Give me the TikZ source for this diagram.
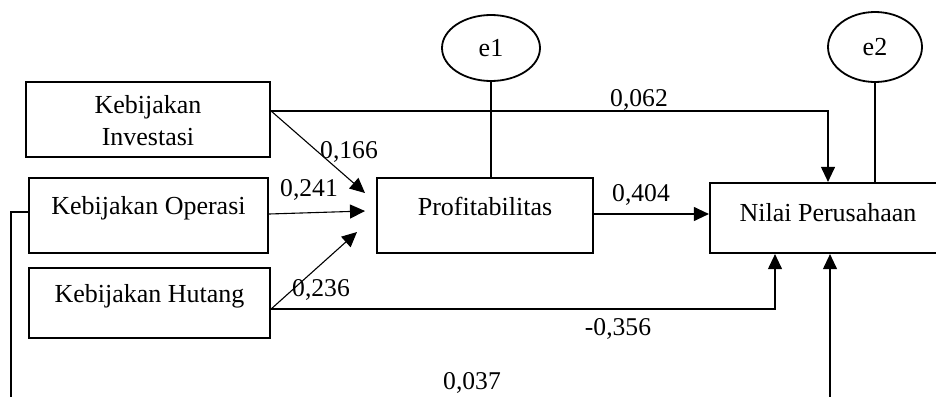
\documentclass[tikz,border=0pt]{standalone}
\usepackage{fontspec}
\setmainfont{Liberation Serif}
\usetikzlibrary{arrows.meta,shapes.geometric,calc}
\begin{document}
\begin{tikzpicture}[x=0.5pt,y=-0.5pt,
  box/.style={draw,line width=1.1pt,inner sep=0pt,rectangle},
  err/.style={draw,line width=0.9pt,ellipse,inner sep=0pt},
  txt/.style={inner sep=0pt,font=\fontsize{13}{16}\selectfont,align=center},
  lab/.style={inner sep=0pt,font=\fontsize{12.8}{15}\selectfont},
  con/.style={line width=0.55pt},
  arr/.style={con,-{Triangle[length=7.5pt,width=7pt]}}]
\useasboundingbox (0,0) rectangle (936,396);
\clip (0,0) rectangle (936,396);
% boxes
\node[box,minimum width=122pt,minimum height=37.5pt] (inv) at (148,119.5) {};
\node[box,minimum width=119.5pt,minimum height=37.5pt] (ope) at (148.5,215.5) {};
\node[box,minimum width=120.5pt,minimum height=35pt] (hut) at (149.5,303) {};
\node[box,minimum width=108pt,minimum height=37.5pt] (pro) at (485,215.5) {};
\node[box,minimum width=120pt,minimum height=35pt] (nil) at (830,218) {};
\node[err,minimum width=49pt,minimum height=33pt] (e1) at (491,48) {};
\node[err,minimum width=47pt,minimum height=35pt] (e2) at (875,47) {};
% texts
\node[txt] (tinv) at (148,121) {Kebijakan\\Investasi};
\node[txt] (tope) at (148.5,208) {Kebijakan Operasi};
\node[txt] (thut) at (149.5,296) {Kebijakan Hutang};
\node[txt] (tpro) at (485,206) {Profitabilitas};
\node[txt] (tnil) at (828,213) {Nilai Perusahaan};
\node[txt] (te1) at (491,48) {e1};
\node[txt] (te2) at (875,47) {e2};
% coordinates
\coordinate (invout) at (inv.north east |- 0,111);
\coordinate (opeout) at (ope.east |- 0,214);
\coordinate (hutout) at (hut.east |- 0,309);
\coordinate (tip1) at (365,193);
\coordinate (tip2) at (365,211);
\coordinate (tip3) at (357,232);
\coordinate (proout) at (pro.east |- 0,214);
\coordinate (nilin) at (nil.west |- 0,214);
\coordinate (nt1) at (828,0 |- nil.north);
\coordinate (nb1) at (775,0 |- nil.south);
\coordinate (nb2) at (830,0 |- nil.south);
\coordinate (nte2) at (875,0 |- nil.north);
\coordinate (pte1) at (e1.south |- pro.north);
\coordinate (opel) at (ope.west |- 0,212);
\coordinate (lcorner) at (11,212);
\coordinate (lbot) at (11,400);
\coordinate (rbot) at (830,400);
% connectors
\draw[arr] (invout) -- (tip1);
\draw[arr] (opeout) -- (tip2);
\draw[arr] (hutout) -- (tip3);
\draw[arr] (invout) -| (nt1);
\draw[arr] (proout) -- (nilin);
\draw[arr] (hutout) -| (nb1);
\draw[arr] (rbot) -- (nb2);
\draw[con] (opel) -- (lcorner) -- (lbot);
\draw[con] (e1.south) -- (pte1);
\draw[con] (e2.south) -- (nte2);
% labels
\node[lab] (l1) at (639,100) {0,062};
\node[lab] (l2) at (349,152) {0,166};
\node[lab] (l3) at (309,190) {0,241};
\node[lab] (l4) at (321,290) {0,236};
\node[lab] (l5) at (641,195) {0,404};
\node[lab] (l6) at (618,329) {-0,356};
\node[lab] (l7) at (472,383) {0,037};
\end{tikzpicture}
\end{document}
